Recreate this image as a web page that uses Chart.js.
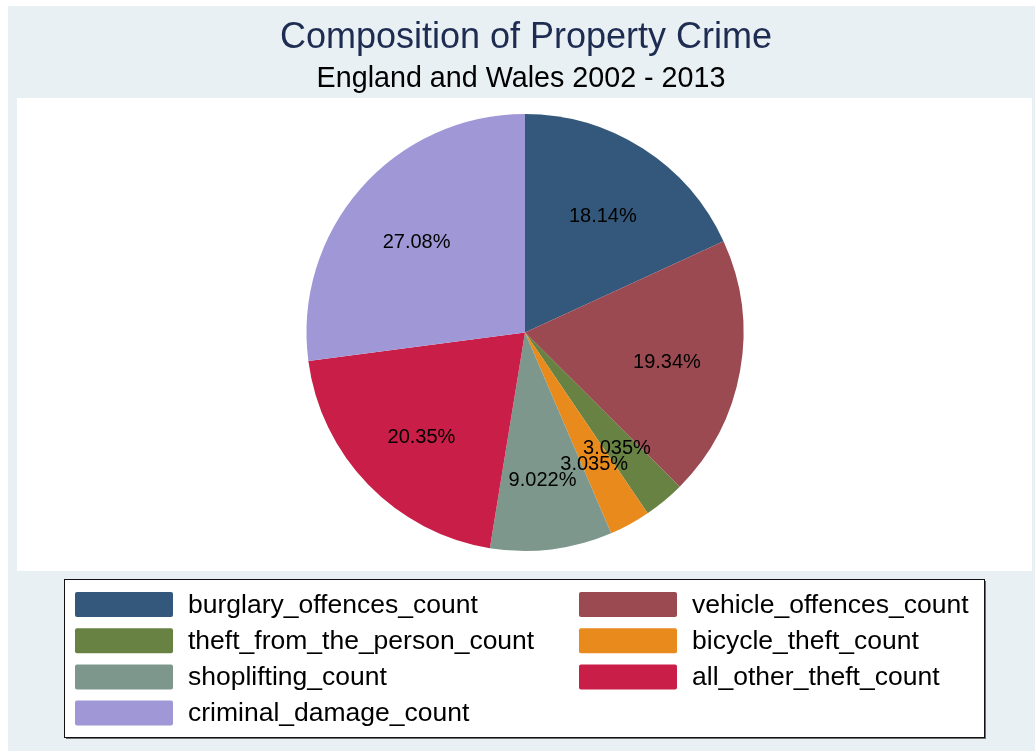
<!DOCTYPE html>
<html>
<head>
<meta charset="utf-8">
<script src="https://cdn.jsdelivr.net/npm/chart.js@4.4.1/dist/chart.umd.min.js"></script>
<style>
  html, body { margin: 0; padding: 0; background: #ffffff; }
  #wrap { width: 1035px; height: 751px; position: relative; }
</style>
</head>
<body>
<div id="wrap"><canvas id="c" width="1035" height="751"></canvas></div>
<script>
// Share of property crime by offence type, England and Wales 2002 - 2013 (percent)
const categories = [
  'burglary_offences_count',
  'vehicle_offences_count',
  'theft_from_the_person_count',
  'bicycle_theft_count',
  'shoplifting_count',
  'all_other_theft_count',
  'criminal_damage_count'
];
const shares = [18.14, 19.34, 3.035, 3.035, 9.022, 20.35, 27.08];
const sliceLabels = ['18.14%', '19.34%', '3.035%', '3.035%', '9.022%', '20.35%', '27.08%'];
const sliceColors = ['#33587b', '#9a4a50', '#678243', '#e88b1c', '#7e978d', '#c81e47', '#a098d6'];

const titleText = 'Composition of Property Crime';
const subtitleText = 'England and Wales 2002 - 2013';

const FONT = '"Liberation Sans", Arial, sans-serif';

// Panel backgrounds, headings and the boxed two-column key
const framePlugin = {
  id: 'frame',
  beforeDraw(chart) {
    const ctx = chart.ctx;
    ctx.save();
    ctx.fillStyle = '#ffffff';
    ctx.fillRect(0, 0, chart.width, chart.height);
    ctx.fillStyle = '#e8f0f3';
    ctx.fillRect(8, 6, chart.width - 8, chart.height - 6);
    ctx.fillStyle = '#ffffff';
    ctx.fillRect(17, 98, 1015, 473);

    ctx.textAlign = 'center';
    ctx.textBaseline = 'alphabetic';
    ctx.fillStyle = '#1e2c52';
    ctx.font = '36px ' + FONT;
    ctx.fillText(titleText, 526, 48);
    ctx.fillStyle = '#000000';
    ctx.font = '28.7px ' + FONT;
    ctx.fillText(subtitleText, 521, 87);
    ctx.restore();
  },
  afterDraw(chart) {
    const ctx = chart.ctx;
    const box = { x: 64, y: 579, w: 920, h: 158 };
    ctx.save();
    // shadow
    ctx.fillStyle = '#6f6f6f';
    ctx.fillRect(box.x + 2, box.y + 2, box.w, box.h);
    ctx.fillStyle = '#ffffff';
    ctx.fillRect(box.x, box.y, box.w, box.h);
    ctx.strokeStyle = '#111111';
    ctx.lineWidth = 1;
    ctx.strokeRect(box.x + 0.5, box.y + 0.5, box.w, box.h);

    const labels = chart.data.labels;
    const colors = chart.data.datasets[0].backgroundColor;
    const colSwatchX = [75, 579];
    const rowY0 = 604.5, rowStep = 36.2;
    ctx.font = '26.5px ' + FONT;
    ctx.textAlign = 'left';
    ctx.textBaseline = 'middle';
    labels.forEach((lab, i) => {
      const col = i % 2, row = Math.floor(i / 2);
      const sx = colSwatchX[col];
      const cy = rowY0 + row * rowStep;
      ctx.fillStyle = colors[i];
      ctx.beginPath();
      ctx.roundRect(sx, cy - 12.5, 98, 25, 2);
      ctx.fill();
      ctx.fillStyle = '#000000';
      ctx.fillText(lab, sx + 113, cy + 1);
    });
    ctx.restore();
  }
};

// Percentage text placed along each slice's bisector
const sliceTextPlugin = {
  id: 'sliceText',
  afterDatasetsDraw(chart) {
    const ctx = chart.ctx;
    const meta = chart.getDatasetMeta(0);
    ctx.save();
    ctx.font = '20px ' + FONT;
    ctx.fillStyle = '#000000';
    ctx.textAlign = 'center';
    ctx.textBaseline = 'middle';
    meta.data.forEach((arc, i) => {
      const p = arc.getProps(['x', 'y', 'startAngle', 'endAngle', 'outerRadius'], true);
      const mid = (p.startAngle + p.endAngle) / 2;
      const r = p.outerRadius * 0.66;
      ctx.fillText(sliceLabels[i], p.x + Math.cos(mid) * r, p.y + Math.sin(mid) * r + 5);
    });
    ctx.restore();
  }
};

new Chart(document.getElementById('c'), {
  type: 'pie',
  data: {
    labels: categories,
    datasets: [{
      data: shares,
      backgroundColor: sliceColors,
      borderWidth: 0,
      hoverOffset: 0
    }]
  },
  options: {
    responsive: false,
    animation: false,
    radius: 218.5,
    layout: { padding: { top: 114, bottom: 200, left: 100, right: 85 } },
    plugins: {
      legend: { display: false },
      title: { display: false },
      tooltip: { enabled: false }
    }
  },
  plugins: [framePlugin, sliceTextPlugin]
});
</script>
</body>
</html>
